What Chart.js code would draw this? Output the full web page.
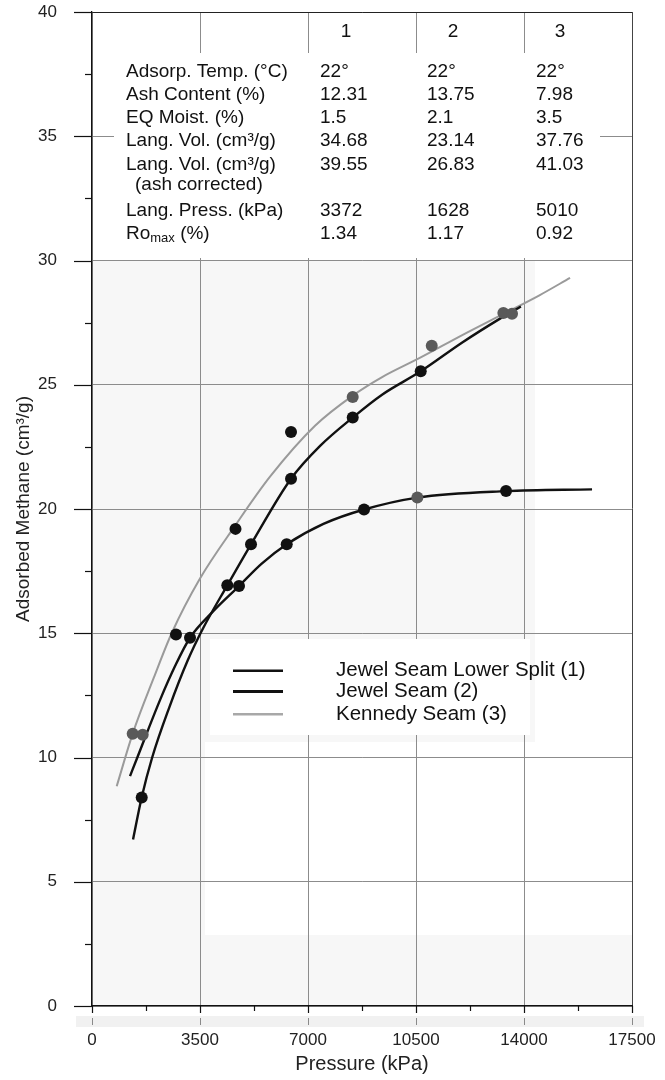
<!DOCTYPE html>
<html><head><meta charset="utf-8">
<script src="https://cdn.jsdelivr.net/npm/chart.js@4.4.0/dist/chart.umd.min.js"></script>
<style>html,body{margin:0;padding:0;background:#fff}canvas{display:block}</style>
</head><body>
<canvas id="c" width="665" height="1080"></canvas>
<script>
// ---------- DATA ----------
const xTickStep = 3500;
const yTickStep = 5;
const seriesNames = ['Jewel Seam Lower Split (1)', 'Jewel Seam (2)', 'Kennedy Seam (3)'];

// fitted curves
const curve1P = [1330, 1611, 1950, 2500, 3100, 3600, 4385, 5153, 6450, 7400, 8449, 9400, 10653, 12000, 13223, 13900];
const curve1V = [6.7, 8.4, 10.0, 12.0, 13.9, 15.2, 16.93, 18.58, 21.22, 22.55, 23.68, 24.6, 25.54, 26.7, 27.66, 28.15];
const curve2P = [1232, 1469, 2200, 2700, 3176, 3900, 4764, 5500, 6310, 7500, 8816, 10544, 13418, 16205];
const curve2V = [9.25, 10.0, 12.3, 13.7, 14.82, 15.85, 16.9, 17.8, 18.58, 19.4, 19.98, 20.46, 20.72, 20.79];
const curve3P = [800, 1319, 2000, 2582, 3500, 4650, 5769, 7227, 8470, 9389, 10653, 12000, 13331, 14500, 15492];
const curve3V = [8.84, 10.96, 13.2, 15.0, 17.2, 19.35, 21.3, 23.35, 24.58, 25.3, 26.1, 27.0, 27.85, 28.6, 29.3];

// measured points
const pts1P = [1611, 4385, 5153, 6450, 8449, 10653];
const pts1V = [8.39, 16.93, 18.58, 21.22, 23.68, 25.54];
const pts2P = [1643, 3176, 4764, 6310, 8816, 10544, 13418];
const pts2V = [10.92, 14.82, 16.90, 18.58, 19.98, 20.46, 20.72];
const pts3P = [1319, 2722, 4650, 6450, 8449, 11010, 13331, 13612];
const pts3V = [10.96, 14.95, 19.2, 23.1, 24.51, 26.57, 27.89, 27.86];

// table
const colHeads = ['1', '2', '3'];
const tableLabels = ['Adsorp. Temp. (°C)', 'Ash Content (%)', 'EQ Moist. (%)', 'Lang. Vol. (cm³/g)', 'Lang. Vol. (cm³/g)', 'Lang. Press. (kPa)', 'Ro'];
const col1Vals = ['22°', '12.31', '1.5', '34.68', '39.55', '3372', '1.34'];
const col2Vals = ['22°', '13.75', '2.1', '23.14', '26.83', '1628', '1.17'];
const col3Vals = ['22°', '7.98', '3.5', '37.76', '41.03', '5010', '0.92'];

// ---------- STYLE ----------
const FONT = '"Liberation Sans", Arial, Helvetica, sans-serif';
const BLACK = '#111';
const DOT_GRAY = '#5a5a5a';
const NONE = 'rgba(0,0,0,0)';
const pts1Col = pts1P.map(() => BLACK);
const pts2Col = [DOT_GRAY, BLACK, BLACK, BLACK, BLACK, DOT_GRAY, BLACK];
const pts3Col = [DOT_GRAY, BLACK, BLACK, BLACK, DOT_GRAY, DOT_GRAY, DOT_GRAY, DOT_GRAY];
const curveCol = [BLACK, BLACK, '#9a9a9a'];

const xy = (P, V) => P.map((p, i) => ({x: p, y: V[i]}));

const ptDs = (P, V, col) => ({
  data: xy(P, V), showLine: false, pointRadius: 6, pointHoverRadius: 6,
  pointBackgroundColor: col, pointBorderColor: col, pointBorderWidth: 0, order: 0
});
const lnDs = (P, V, i, w) => ({
  label: seriesNames[i], data: xy(P, V), showLine: true, pointRadius: 0,
  borderColor: curveCol[i], borderWidth: w, cubicInterpolationMode: 'monotone',
  fill: false, order: 1
});

const deco = {
  id: 'deco',
  beforeDraw(chart) {
    const {ctx, chartArea: a} = chart;
    ctx.save();
    ctx.fillStyle = '#fff';
    ctx.fillRect(0, 0, chart.width, chart.height);
    // faint scan tint of the lower plot
    ctx.fillStyle = '#f7f7f7';
    ctx.fillRect(a.left, 260, a.right - a.left, a.bottom - 260);
    ctx.fillStyle = '#fff';
    ctx.fillRect(535, 260, a.right - 535, 482);
    ctx.fillRect(205, 742, a.right - 205, 193);
    ctx.fillStyle = '#f1f1f1';
    ctx.fillRect(76, 1016, 568, 11);
    ctx.restore();
  },
  beforeDatasetsDraw(chart) {
    const {ctx} = chart;
    ctx.save();
    ctx.fillStyle = '#fff';
    ctx.fillRect(114, 53, 486, 205);   // table box
    ctx.fillRect(210, 639, 320, 96);   // legend box
    ctx.restore();
  },
  afterDraw(chart) {
    const {ctx, scales: {x, y}, chartArea: a} = chart;
    ctx.save();
    ctx.strokeStyle = BLACK;
    ctx.lineWidth = 1.2;
    // y ticks
    for (let v = 0; v <= 40.001; v += yTickStep / 2) {
      const py = Math.round(y.getPixelForValue(v)) + 0.5;
      const major = Math.abs(v % yTickStep) < 1e-6;
      ctx.beginPath();
      ctx.moveTo(a.left - (major ? 18 : 7), py);
      ctx.lineTo(a.left, py);
      ctx.stroke();
    }
    // x ticks
    for (let p = 0; p <= 17500; p += xTickStep / 2) {
      const px = Math.round(x.getPixelForValue(p)) + 0.5;
      const major = p % xTickStep === 0;
      ctx.beginPath();
      ctx.moveTo(px, a.bottom);
      ctx.lineTo(px, a.bottom + (major ? 7 : 5));
      ctx.stroke();
      if (major) {
        ctx.save();
        ctx.strokeStyle = '#8a8a8a';
        ctx.lineWidth = 1;
        ctx.beginPath();
        ctx.moveTo(px, 1018);
        ctx.lineTo(px, 1025);
        ctx.stroke();
        ctx.restore();
      }
    }
    // table
    ctx.fillStyle = BLACK;
    ctx.textBaseline = 'middle';
    ctx.font = '19px ' + FONT;
    ctx.textAlign = 'center';
    const headX = [346, 453, 560];
    colHeads.forEach((h, i) => ctx.fillText(h, headX[i], 32));
    ctx.textAlign = 'left';
    const rowY = [71.7, 94.3, 117.7, 140.7, 164.3, 210.7, 233.3];
    const colX = [320, 427, 536];
    tableLabels.forEach((t, i) => {
      ctx.font = '19px ' + FONT;
      ctx.fillText(t, 126, rowY[i]);
      if (i === tableLabels.length - 1) {
        const w = ctx.measureText(t).width;
        ctx.font = '13px ' + FONT;
        ctx.fillText('max', 126 + w, rowY[i] + 5);
        const w2 = ctx.measureText('max').width;
        ctx.font = '19px ' + FONT;
        ctx.fillText(' (%)', 126 + w + w2, rowY[i]);
      }
      ctx.fillText(col1Vals[i], colX[0], rowY[i]);
      ctx.fillText(col2Vals[i], colX[1], rowY[i]);
      ctx.fillText(col3Vals[i], colX[2], rowY[i]);
    });
    ctx.fillText('(ash corrected)', 135, 185);
    // legend
    const legY = [670.7, 691.5, 714.3];
    const legW = [2.5, 3, 2.5];
    ctx.font = '20.5px ' + FONT;
    seriesNames.forEach((n, i) => {
      ctx.strokeStyle = curveCol[i] === BLACK ? BLACK : '#a8a8a8';
      ctx.lineWidth = legW[i];
      ctx.beginPath();
      ctx.moveTo(233, legY[i]);
      ctx.lineTo(283, legY[i]);
      ctx.stroke();
      ctx.fillStyle = BLACK;
      ctx.fillText(n, 336, legY[i]);
    });
    ctx.restore();
  }
};

new Chart(document.getElementById('c'), {
  type: 'scatter',
  data: {
    datasets: [
      ptDs(pts1P, pts1V, pts1Col),
      ptDs(pts2P, pts2V, pts2Col),
      ptDs(pts3P, pts3V, pts3Col),
      lnDs(curve1P, curve1V, 0, 2.4),
      lnDs(curve2P, curve2V, 1, 2.4),
      lnDs(curve3P, curve3V, 2, 2.0)
    ]
  },
  options: {
    responsive: false,
    animation: false,
    devicePixelRatio: 1,
    layout: {autoPadding: false, padding: {top: 12, right: 33, left: 0, bottom: 0}},
    plugins: {legend: {display: false}, tooltip: {enabled: false}},
    events: [],
    scales: {
      x: {
        type: 'linear', min: 0, max: 17500,
        afterFit: s => { s.height = 74; },
        ticks: {stepSize: xTickStep, color: '#222', font: {family: FONT, size: 17}, padding: 0, maxRotation: 0, callback: v => String(v)},
        grid: {drawTicks: true, tickLength: 24, tickColor: NONE, color: c => c.tick && c.tick.value === 17500 ? '#444' : '#8c8c8c', lineWidth: 1},
        border: {color: BLACK, width: 1.3},
        title: {display: true, text: 'Pressure (kPa)', color: '#222', font: {family: FONT, size: 20}, padding: {top: 0, bottom: 4}}
      },
      y: {
        type: 'linear', min: 0, max: 40,
        afterFit: s => { s.width = 92; },
        ticks: {stepSize: yTickStep, color: '#222', font: {family: FONT, size: 17}, padding: 0, callback: v => String(v)},
        grid: {drawTicks: true, tickLength: 35, tickColor: NONE, color: c => c.tick && c.tick.value === 40 ? '#222' : '#8c8c8c', lineWidth: 1},
        border: {color: BLACK, width: 1.3},
        title: {display: true, text: 'Adsorbed Methane (cm³/g)', color: '#222', font: {family: FONT, size: 19}, padding: {top: 12, bottom: 0}}
      }
    }
  },
  plugins: [deco]
});
</script>
</body></html>
